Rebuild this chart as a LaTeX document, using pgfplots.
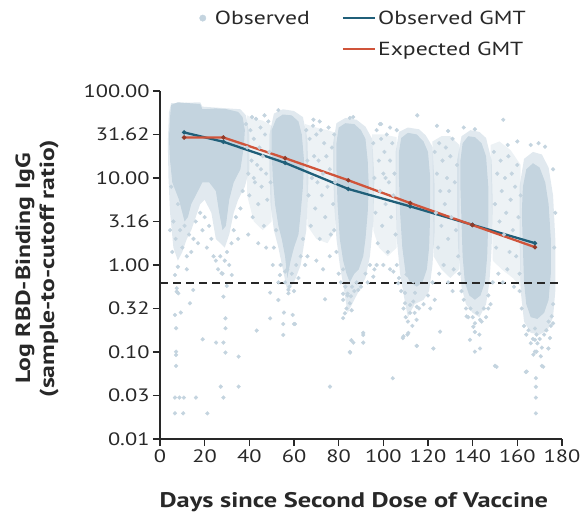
\documentclass[border=0pt]{standalone}
\usepackage{fontspec}
\setmainfont{PT Sans}[FakeStretch=1.25]
\usepackage{pgfplots}
\pgfplotsset{compat=1.18}
\definecolor{obs}{RGB}{196,212,223}
\definecolor{gmtobs}{RGB}{32,95,121}
\definecolor{gmtexp}{RGB}{208,84,58}
\definecolor{txt}{RGB}{40,40,40}
\begin{document}
\begin{tikzpicture}
\path[use as bounding box] (0,0) rectangle (581bp,514bp);
\begin{axis}[
  at={(160bp,75bp)}, anchor=south west,
  width=402bp, height=348bp, scale only axis,
  xmin=0, xmax=180, ymin=-2, ymax=2,
  axis lines=left, axis line style={-, line width=1.5bp, txt},
  xtick={0,20,40,60,80,100,120,140,160,180},
  xticklabels={0,20,40,60,80,100,120,140,160,180},
  ytick={-2,-1.5,-1,-0.5,0,0.5,1,1.5,2},
  yticklabels={0.01,0.03,0.10,0.32,1.00,3.16,10.00,31.62,100.00},
  tick align=outside, major tick length=7bp,
  tick style={line width=1.3bp, txt},
  ticklabel style={font=\fontsize{18}{22}\selectfont, text=txt},
  xlabel={Days since Second Dose of Vaccine},
  ylabel={Log RBD-Binding IgG\\(sample-to-cutoff ratio)},
  xlabel style={at={(axis description cs:0.482,-0.18)}, anchor=center, font=\fontsize{21.2}{24}\selectfont\bfseries, text=txt},
  ylabel style={at={(axis description cs:-0.306,0.49)}, anchor=center, align=center, font=\fontsize{20.6}{24}\selectfont\bfseries, text=txt},
  legend columns=2,
  legend cell align=left,
  legend style={at={(axis description cs:0.09,1.243)}, anchor=north west, draw=none, fill=none,
    font=\fontsize{19}{22}\selectfont, text=txt, row sep=12bp,
    /tikz/every even column/.append style={column sep=30bp}},
]
% sparse regions between clusters
\addplot[draw=none, fill=obs, fill opacity=0.3, forget plot] coordinates {(39,1.72)(42,1.68)(46,1.66)(50,1.6)(50,0.5)(46,0.4)(42,0.5)(39,0.8)} -- cycle;
\addplot[draw=none, fill=obs, fill opacity=0.3, forget plot] coordinates {(65,1.62)(70,1.58)(75,1.55)(78.5,1.52)(78.5,0.4)(75,0.25)(70,0.3)(66,0.45)} -- cycle;
\addplot[draw=none, fill=obs, fill opacity=0.3, forget plot] coordinates {(95,1.5)(100,1.5)(106,1.47)(106,0.2)(102,0.1)(98,0.2)(95.5,0.4)} -- cycle;
\addplot[draw=none, fill=obs, fill opacity=0.4, forget plot] coordinates {(122,1.42)(126,1.48)(130,1.48)(134,1.38)(134,-0.05)(130,-0.15)(126,-0.05)(122.5,0.1)} -- cycle;
\addplot[draw=none, fill=obs, fill opacity=0.3, forget plot] coordinates {(148,1.38)(152,1.42)(157,1.32)(161.5,1.15)(161.5,-0.25)(158,-0.15)(153,-0.05)(149,0.05)} -- cycle;
% halos
\addplot[draw=none, fill=obs, fill opacity=0.5, forget plot] coordinates {(3.5,1.4)(4,1.75)(5,1.86)(18,1.87)(19,1.82)(36,1.79)(38.5,1.72)(40,1.5)(40,1.1)(38,0.9)(35,0.75)(33,0.6)(31,0.35)(29,0.2)(27,0.25)(25,0.3)(23,0.6)(20,0.75)(18,0.7)(16,0.55)(14,0.4)(12,0.3)(10,0.15)(8,0.05)(6,0.2)(4.5,0.6)(3.8,1.0)} -- cycle;
\addplot[draw=none, fill=obs, fill opacity=0.5, forget plot] coordinates {(49,1.5)(51,1.74)(55,1.79)(60,1.77)(64,1.70)(66,1.45)(66.5,1.0)(65.5,0.4)(63,0.0)(60,-0.2)(57,-0.3)(55,-0.05)(53,0.2)(51,0.4)(49.5,0.7)(49,1.1)} -- cycle;
\addplot[draw=none, fill=obs, fill opacity=0.5, forget plot] coordinates {(77.5,1.4)(79,1.63)(83,1.69)(88,1.67)(92,1.59)(95,1.45)(96,1.0)(95.5,0.5)(94,0.1)(92,-0.15)(89,-0.3)(86,-0.45)(84,-0.55)(82.5,-0.3)(80.5,0.0)(79,0.3)(78,0.7)(77.5,1.1)} -- cycle;
\addplot[draw=none, fill=obs, fill opacity=0.5, forget plot] coordinates {(105.5,1.3)(107,1.53)(111,1.58)(116,1.56)(119,1.49)(122,1.36)(123,0.9)(123,0.4)(122,0.0)(120.5,-0.3)(118,-0.4)(114,-0.45)(111,-0.6)(109.5,-0.4)(107.5,-0.1)(106,0.3)(105.5,0.8)} -- cycle;
\addplot[draw=none, fill=obs, fill opacity=0.5, forget plot] coordinates {(133,1.2)(135,1.48)(139,1.55)(143,1.53)(146,1.46)(148.5,1.2)(149,0.7)(148.5,0.2)(147.5,-0.2)(146,-0.45)(143,-0.6)(140,-0.55)(137,-0.45)(135,-0.25)(133.5,0.2)(133,0.7)} -- cycle;
\addplot[draw=none, fill=obs, fill opacity=0.5, forget plot] coordinates {(161,0.9)(163,1.22)(167,1.3)(171,1.27)(174,1.12)(176,0.8)(177,0.3)(177,-0.3)(176,-0.6)(173.5,-0.75)(170,-0.8)(166,-0.78)(163,-0.65)(161.5,-0.3)(161,0.3)} -- cycle;
% dense cores
\addplot[draw=none, fill=obs, forget plot] coordinates {(4,1.45)(4.5,1.70)(5,1.84)(8,1.87)(13,1.86)(18,1.85)(19,1.79)(25,1.80)(30,1.79)(35,1.76)(37,1.70)(38,1.55)(37.5,1.35)(36,1.10)(33,0.95)(31,0.75)(29.5,0.45)(28,0.40)(26.5,0.60)(25,0.85)(22,0.95)(19,0.95)(16,0.80)(14,0.70)(12.5,0.55)(11,0.50)(10,0.60)(8.5,0.75)(7,0.85)(5.5,0.95)(4.5,1.20)} -- cycle;
\addplot[draw=none, fill=obs, forget plot] coordinates {(50,1.30)(50,1.55)(52,1.68)(55,1.73)(59,1.72)(62,1.65)(63.5,1.50)(64.5,1.20)(64,0.90)(63,0.60)(62,0.35)(60,0.20)(58.5,0.05)(57,-0.15)(56,0.10)(54.5,0.30)(53,0.45)(51.5,0.70)(50.5,1.00)} -- cycle;
\addplot[draw=none, fill=obs, forget plot] coordinates {(79,1.10)(79,1.40)(80,1.58)(83,1.63)(87,1.62)(90,1.55)(92,1.45)(93,1.20)(93.5,0.90)(93,0.60)(92,0.30)(91,0.10)(89,-0.05)(87,-0.10)(85,-0.20)(83.5,-0.10)(82,0.05)(80.5,0.30)(79.5,0.70)} -- cycle;
\addplot[draw=none, fill=obs, forget plot] coordinates {(107,1.00)(107,1.30)(108,1.46)(111,1.52)(115,1.50)(118,1.42)(120,1.30)(121,1.00)(121,0.60)(120.5,0.20)(119.5,-0.05)(117.5,-0.20)(115,-0.25)(112,-0.20)(110,-0.10)(108.5,0.20)(107.5,0.60)} -- cycle;
\addplot[draw=none, fill=obs, forget plot] coordinates {(134.5,0.90)(134.5,1.20)(135.5,1.40)(138,1.48)(141,1.47)(144,1.40)(146,1.25)(147,0.90)(147,0.50)(146.5,0.10)(145.5,-0.20)(143.5,-0.35)(141,-0.40)(138.5,-0.35)(136.5,-0.20)(135.5,0.10)(135,0.50)} -- cycle;
\addplot[draw=none, fill=obs, forget plot] coordinates {(162,0.60)(162.5,0.90)(164,1.10)(167,1.17)(170,1.12)(172.5,0.95)(174,0.70)(175,0.30)(175,-0.10)(174,-0.40)(172,-0.55)(169,-0.62)(166,-0.60)(164,-0.45)(163,-0.20)(162.5,0.20)} -- cycle;
% individual observations
\addplot[only marks, mark=*, mark size=1.9bp, color=obs, mark options={draw=none, fill=obs}, forget plot] coordinates {
(6.7,-0.115)(7.5,-0.268)(7.5,-0.306)(8.2,-0.325)(14.9,-0.287)(13.4,-0.44)(6.7,-0.574)(9.3,-0.547)(7.2,-0.727)(19.1,-0.854)(7.2,-0.996)(7.2,-1.034)(7.2,-1.16)(6.7,-1.524)(8.7,-1.524)(10.7,-1.524)(16.1,-1.524)(6.7,-1.705)(10.4,-1.705)(21.2,-1.705)(27.2,-1.398)(35.2,-1.398)(28.4,-1.524)(25.1,-0.892)(28.4,-0.892)(29.3,-1.007)(35.2,-1.053)(29.3,-0.727)(29.3,-0.613)(28.4,-0.364)(27.6,-0.095)(32.1,-0.115)(29.9,-0.241)(49.3,-0.318)(53.0,-0.402)(49.3,-0.613)(55.5,-0.547)(59.4,-0.574)(55.2,-0.678)(60.0,-0.678)(55.2,-0.804)(43.3,-0.754)(57.5,-0.287)(57.5,-0.325)(53.7,-0.115)(56.0,-0.076)
(73.9,-0.394)(60.4,-0.678)(82,-0.33)(84,-0.33)(85.5,-0.36)(82,-0.40)(85,-0.44)(83.5,-0.50)(82.8,-0.555)(85.8,-0.52)(82,-0.61)(91.0,-0.804)(86.6,-0.892)(91.0,-0.892)(85.1,-1.007)(76.1,-1.398)(104.2,-1.302)(110.4,-0.11)(112.6,-0.14)(113.4,-0.19)(109.7,-0.32)(114.2,-0.32)(109.7,-0.44)(112,-0.46)(115,-0.48)(113.4,-0.42)(114.9,-0.63)(111.2,-0.78)(109,-0.82)(114.9,-0.93)(104.5,-0.076)(106.7,-0.21)(95.5,-0.134)(88.8,-0.287)(85.7,-0.865)(91,-0.78)(85,-1.0)
(137.3,-0.59)(141,-0.67)(143.3,-0.63)(140.3,-0.71)(141,-0.77)(138.8,-0.86)(141,-0.996)(143.3,-0.96)(150.7,-1.17)(147,-0.50)(125.4,-0.766)(122.4,-0.96)(115,-0.93)(108.7,-0.84)(110.8,-0.80)
(167.9,-0.73)(168.6,-0.80)(167.9,-0.86)(167.9,-0.996)(167.2,-1.03)(168.6,-0.996)(171.6,-1.17)(164.2,-1.225)(168.3,-1.30)(168.3,-1.40)(168.3,-1.524)(168.3,-1.705)(174.6,-0.84)(173.9,-0.96)(176,-0.67)(175.4,-0.59)(150,-1.16)(163.8,-1.23)(171,-1.16)
(115.2,1.72)(129,1.54)(153.7,1.67)(141,1.56)(155.7,1.38)(172.4,1.36)(166,1.38)(169.5,1.40)(53,1.78)(68.7,1.67)(85,1.69)(86.5,1.70)(99,1.62)(103,1.58)(124,1.60)(136,1.58)(160,1.42)(176,1.10)(177,0.6)(176.5,0.2)
(38.5,1.62)(39,1.35)(39.5,1.05)(40,0.8)(40.5,1.55)(41,1.2)(41.5,0.55)(42,1.45)(42.5,0.95)(43,1.68)(43.5,1.15)(44,0.7)(44.5,1.35)(45,1.58)(45.5,0.9)(46,1.25)(46.5,0.45)(47,1.5)(47.5,1.05)(48,0.75)(48.5,1.65)(49,1.3)(49.5,0.95)(39.5,0.35)(44,0.25)(47.5,0.2)(42,1.0)(45.2,1.1)(41.2,1.7)(46.8,1.72)
(65.5,1.55)(66,1.2)(66.5,0.8)(67,1.45)(67.5,0.45)(68,1.0)(68.5,1.6)(69,1.25)(69.5,0.65)(70,1.5)(70.5,0.95)(71,1.2)(71.5,0.3)(72,1.55)(72.5,0.8)(73,1.05)(73.5,1.4)(74,0.55)(74.5,1.25)(75,0.9)(75.5,1.58)(76,1.1)(76.5,0.35)(77,1.35)(77.5,0.7)(78,1.5)(66,0.1)(70,0.05)(73,-0.05)(76,0.1)(78.5,0.95)(71.5,1.65)
(95.5,1.4)(96,1.0)(96.5,0.6)(97,1.55)(97.5,0.25)(98,1.2)(98.5,0.85)(99,1.45)(99.5,0.45)(100,1.05)(100.5,1.3)(101,0.7)(101.5,1.5)(102,0.15)(102.5,0.95)(103,1.2)(103.5,0.55)(104,1.4)(104.5,0.8)(105,1.05)(105.5,0.35)(106,1.55)(97,0.0)(100,0.0)(103,-0.05)(98.5,1.62)(101,1.0)
(123,1.3)(123.5,0.6)(124,1.05)(124.5,0.2)(125,1.4)(125.5,0.85)(126,0.45)(126.5,1.2)(127,0.0)(127.5,0.7)(128,1.35)(128.5,1.0)(129,0.3)(129.5,0.85)(130,1.25)(130.5,0.55)(131,1.45)(131.5,-0.05)(132,0.95)(132.5,0.4)(133,1.15)(133.5,0.1)(125,-0.1)(129,-0.2)(131,-0.3)
(149.5,1.3)(150,0.7)(150.5,0.2)(151,1.05)(151.5,-0.1)(152,0.5)(152.5,1.2)(153,0.85)(153.5,-0.2)(154,0.35)(154.5,1.0)(155,0.6)(155.5,-0.05)(156,1.25)(156.5,0.15)(157,0.75)(157.5,1.05)(158,0.4)(158.5,-0.25)(159,0.9)(159.5,0.1)(160,1.15)(160.5,0.55)(161,-0.1)(161.5,0.8)
(5,0.9)(6,0.5)(7,0.3)(8,0.7)(9,0.4)(10,0.2)(11,0.45)(12,0.1)(13,0.35)(14,0.15)(15,0.3)(16,0.5)(17,0.25)(18,0.6)(19,0.4)(20,0.55)(21,0.2)(22,0.45)(23,0.3)(24,0.1)(25,0.05)(26,-0.05)(27,0.1)(28,-0.1)(29,0.05)(30,0.15)(31,0.0)(32,0.25)(33,0.4)(34,0.55)(35,0.3)(36,0.65)(37,0.85)(4.5,0.4)(5.5,0.15)(8,-0.02)(12,-0.05)
(56,-0.2)(57,-0.05)(58,-0.25)(59,-0.1)(60,-0.3)(61,0.0)(62,-0.15)(54,0.0)(53,-0.2)(63,0.1)(64,0.3)(65,0.0)(51,0.2)(50.5,0.0)(52,0.4)
(80,-0.1)(81,-0.2)(82,-0.05)(83,-0.25)(84,-0.35)(86,-0.25)(87,-0.3)(88,-0.2)(90,-0.25)(92,-0.1)(93,-0.2)(94,0.0)(96,-0.05)(79,0.15)(78,0.4)
(108,-0.3)(109,-0.5)(110,-0.6)(111,-0.65)(112,-0.55)(113,-0.7)(114,-0.55)(116,-0.5)(118,-0.45)(120,-0.35)(121,-0.5)(122,-0.2)(123,-0.4)(107,-0.15)(106,0.0)
(136,-0.4)(137,-0.5)(138,-0.6)(139,-0.5)(140,-0.6)(142,-0.55)(144,-0.65)(145,-0.5)(146,-0.6)(147,-0.35)(148,-0.45)(149,-0.2)(135,-0.3)(134,-0.1)(143,-0.8)
(163,-0.7)(164,-0.8)(165,-0.75)(166,-0.9)(167,-0.85)(169,-0.9)(170,-0.85)(171,-0.95)(172,-0.8)(173,-0.75)(174,-0.65)(175,-0.7)(176,-0.45)(162,-0.5)(161,-0.3)(170.5,-1.05)
};
% positivity cutoff
\addplot[txt, line width=1.6bp, dash pattern=on 8bp off 5bp, forget plot] coordinates {(0,-0.21)(180,-0.21)};
% GMT lines
\addplot[gmtobs, line width=2.3bp, mark=*, mark size=0.8bp, forget plot] coordinates {(10.8,1.524)(28.4,1.416)(56,1.174)(84.3,0.874)(112,0.674)(139.9,0.462)(167.9,0.251)};
\addplot[gmtexp, line width=2.3bp, mark=*, mark size=0.8bp, mark options={fill=gmtexp!70!black, draw=gmtexp!70!black}, forget plot] coordinates {(10.8,1.466)(28.4,1.466)(56,1.228)(84.3,0.974)(112,0.712)(139.9,0.459)(167.9,0.205)};
% legend
\addlegendimage{legend image code/.code={\fill[obs] (3bp,0bp) circle (3.2bp); \path (13bp,0bp);}}
\addlegendentry{Observed}
\addlegendimage{legend image code/.code={\draw[gmtobs, line width=2.3bp] (0bp,0bp) -- (32bp,0bp);}}
\addlegendentry{Observed GMT}
\addlegendimage{empty legend}
\addlegendentry{}
\addlegendimage{legend image code/.code={\draw[gmtexp, line width=2.3bp] (0bp,0bp) -- (32bp,0bp);}}
\addlegendentry{Expected GMT}
\end{axis}
\end{tikzpicture}
\end{document}
